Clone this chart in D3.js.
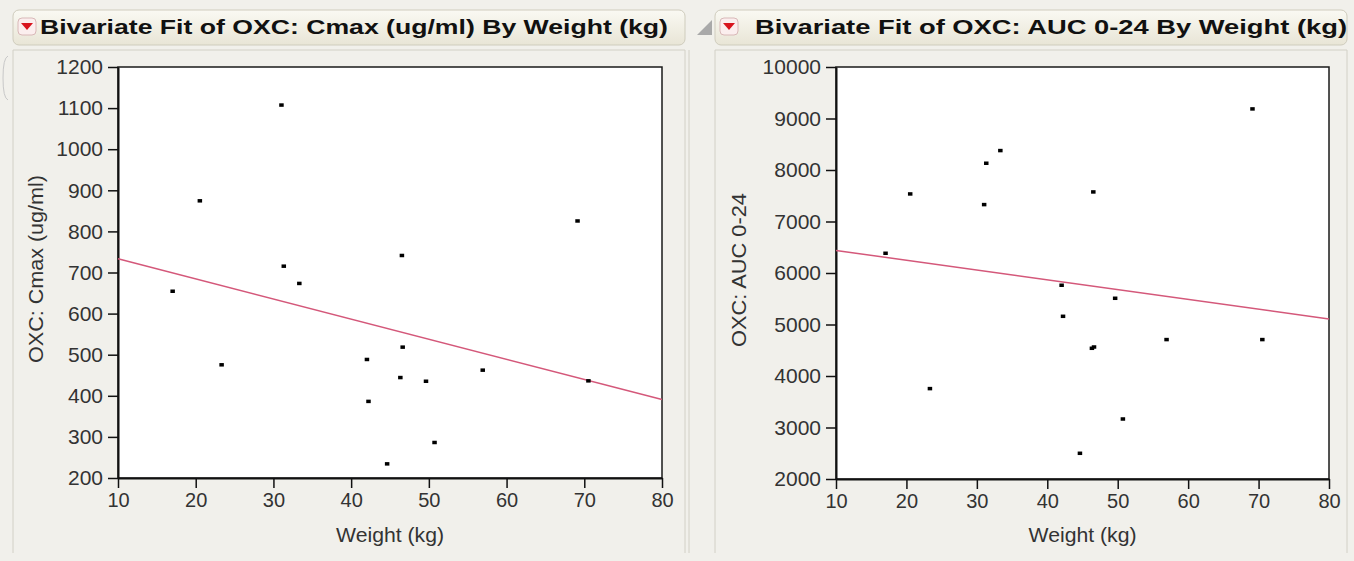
<!DOCTYPE html>
<html>
<head>
  <meta charset="utf-8">
  <script src="https://d3js.org/d3.v7.min.js"></script>
  <style>
    body { margin: 0; background: #f1f0eb; }
    svg { display: block; font-family: "Liberation Sans", Arial, sans-serif; }
  </style>
</head>
<body>
  <svg width="1354" height="561"></svg>

  <script>
    // weight (kg) per subject, shared by both plots
    const weight = [17.0, 20.5, 23.3, 31.0, 31.3, 33.3, 42.0, 42.2, 44.6, 46.3, 46.5, 46.6, 49.6, 50.7, 56.9, 69.1, 70.5];
    const cmax = [655, 875, 476, 1108, 716, 674, 489, 387, 235, 445, 742, 519, 436, 287, 463, 826, 437];
    const auc = [6388, 7540, 3760, 7333, 8136, 8382, 5767, 5164, 2504, 4543, 7579, 4568, 5514, 3170, 4712, 9191, 4712];

    const xTicks = [10, 20, 30, 40, 50, 60, 70, 80];
    const cmaxTicks = [200, 300, 400, 500, 600, 700, 800, 900, 1000, 1100, 1200];
    const aucTicks = [2000, 3000, 4000, 5000, 6000, 7000, 8000, 9000, 10000];

    const svg = d3.select("svg");

    const defs = svg.append("defs");
    const grad = defs.append("linearGradient")
      .attr("id", "hdr").attr("x1", 0).attr("y1", 0).attr("x2", 0).attr("y2", 1);
    grad.append("stop").attr("offset", "0%").attr("stop-color", "#faf9f3");
    grad.append("stop").attr("offset", "100%").attr("stop-color", "#e8e5d6");

    // least squares fit
    const fit = (xs, ys) => {
      const mx = d3.mean(xs), my = d3.mean(ys);
      let sxy = 0, sxx = 0;
      xs.forEach((x, i) => { sxy += (x - mx) * (ys[i] - my); sxx += (x - mx) * (x - mx); });
      const b = sxy / sxx;
      return x => my + b * (x - mx);
    };

    const drawPanel = (p) => {
      // header box
      svg.append("rect")
        .attr("x", p.hx).attr("y", 10).attr("width", p.hw).attr("height", 35)
        .attr("rx", 6)
        .attr("fill", "url(#hdr)").attr("stroke", "#cfccbd");

      // red disclosure icon
      svg.append("rect")
        .attr("x", p.hx + 5).attr("y", 18).attr("width", 18).attr("height", 17)
        .attr("rx", 4)
        .attr("fill", "#fbeeee").attr("stroke", "#d9b8b8");
      svg.append("path")
        .attr("d", `M${p.hx + 8},${23} L${p.hx + 20},${23} L${p.hx + 14},${30} Z`)
        .attr("fill", "#d8141e");

      svg.append("text")
        .attr("x", p.tx).attr("y", 34)
        .attr("font-size", 20).attr("font-weight", "bold")
        .attr("fill", "#111")
        .attr("textLength", p.tw).attr("lengthAdjust", "spacingAndGlyphs")
        .text(p.title);

      // panel outline
      svg.append("path")
        .attr("d", `M${p.hx},${553} L${p.hx},${50} L${p.hx + p.hw},${50} L${p.hx + p.hw},${553}`)
        .attr("fill", "none").attr("stroke", "#d2d0c6");

      const x = d3.scaleLinear().domain([10, 80]).range([p.left, p.right]);
      const y = d3.scaleLinear().domain(p.yDomain).range([p.bottom, 67]);

      // plot background
      svg.append("rect")
        .attr("x", p.left).attr("y", 67)
        .attr("width", p.right - p.left).attr("height", p.bottom - 67)
        .attr("fill", "#fff").attr("stroke", "#1a1a1a").attr("stroke-width", 1.5);

      const yAxis = svg.append("g")
        .attr("transform", `translate(${p.left},0)`)
        .call(d3.axisLeft(y).tickValues(p.yTicks).tickFormat(d3.format("d"))
          .tickSize(10).tickPadding(5).tickSizeOuter(0));
      const xAxis = svg.append("g")
        .attr("transform", `translate(0,${p.bottom})`)
        .call(d3.axisBottom(x).tickValues(xTicks).tickFormat(d3.format("d"))
          .tickSize(10).tickPadding(5).tickSizeOuter(0));

      yAxis.selectAll("text").attr("font-size", 21).attr("fill", "#333").attr("font-family", "Liberation Sans, Arial");
      xAxis.selectAll("text").attr("font-size", 20).attr("fill", "#333").attr("font-family", "Liberation Sans, Arial");
      svg.selectAll(".domain").attr("stroke", "#111").attr("stroke-width", 2);
      svg.selectAll(".tick line").attr("stroke", "#111").attr("stroke-width", 1.5);

      // fit line
      const f = fit(weight, p.values);
      svg.append("line")
        .attr("x1", x(10)).attr("y1", y(f(10)))
        .attr("x2", x(80)).attr("y2", y(f(80)))
        .attr("stroke", "#d4587a").attr("stroke-width", 1.5);

      // points
      svg.append("g").selectAll("rect")
        .data(weight)
        .enter()
        .append("rect")
        .attr("x", (d) => x(d) - 2)
        .attr("y", (d, i) => y(p.values[i]) - 1.5)
        .attr("width", 4.5).attr("height", 3.5)
        .attr("fill", "#000");

      // axis titles
      svg.append("text")
        .attr("x", (p.left + p.right) / 2).attr("y", 542)
        .attr("text-anchor", "middle")
        .attr("font-size", 20).attr("fill", "#333")
        .attr("textLength", 108).attr("lengthAdjust", "spacingAndGlyphs")
        .text("Weight (kg)");

      svg.append("text")
        .attr("transform", `translate(${p.ylabX},${p.ylabY}) rotate(-90)`)
        .attr("text-anchor", "middle")
        .attr("font-size", 20).attr("fill", "#333")
        .attr("textLength", p.ylabLen).attr("lengthAdjust", "spacingAndGlyphs")
        .text(p.yLabel);
    };

    drawPanel({
      title: "Bivariate Fit of OXC: Cmax (ug/ml) By Weight (kg)",
      hx: 13, hw: 672, tx: 40, tw: 628,
      left: 118, right: 662, bottom: 478,
      yDomain: [200, 1200], yTicks: cmaxTicks, values: cmax,
      yLabel: "OXC: Cmax (ug/ml)", ylabX: 43, ylabY: 269, ylabLen: 188
    });

    drawPanel({
      title: "Bivariate Fit of OXC: AUC 0-24 By Weight (kg)",
      hx: 715, hw: 632, tx: 755, tw: 592,
      left: 836, right: 1329, bottom: 479,
      yDomain: [2000, 10000], yTicks: aucTicks, values: auc,
      yLabel: "OXC: AUC 0-24", ylabX: 746, ylabY: 270, ylabLen: 154
    });

    // gray resize triangle between panels
    svg.append("path")
      .attr("d", "M697,35 L712,35 L712,20 Z")
      .attr("fill", "#a9a9a9");

    // divider line between panels
    svg.append("line")
      .attr("x1", 689).attr("y1", 50).attr("x2", 689).attr("y2", 553)
      .attr("stroke", "#d2d0c6");

    // faint bracket on the far left
    svg.append("path")
      .attr("d", "M8,56 Q3,58 3,78 Q3,98 8,100")
      .attr("fill", "none").attr("stroke", "#c8c8c8");
  </script>
</body>
</html>
